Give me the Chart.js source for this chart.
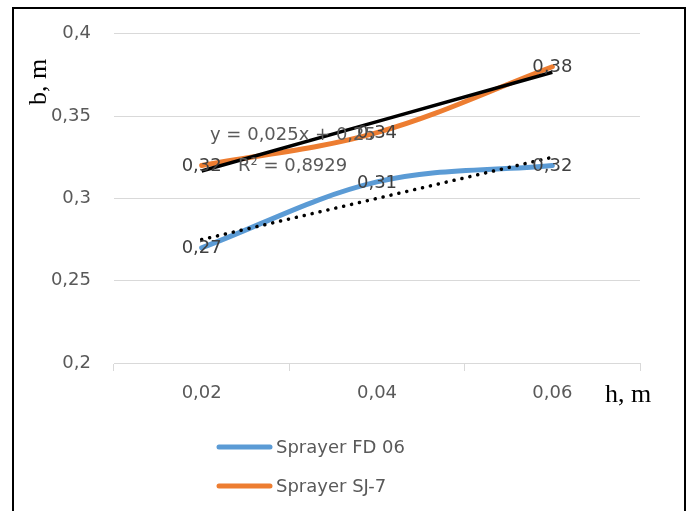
<!DOCTYPE html>
<html>
<head>
<meta charset="utf-8">
<script src="https://cdn.jsdelivr.net/npm/chart.js@4"></script>
<style>
  html, body { margin: 0; padding: 0; background: #fff; overflow: hidden; }
  #wrap { position: relative; width: 687px; height: 511px; }
  #frame { position: absolute; left: 12px; top: 7px; width: 670px; height: 600px; border: 2px solid #000; pointer-events: none; }
  canvas { position: absolute; left: 0; top: 0; }
</style>
</head>
<body>
<div id="wrap">
  <canvas id="chart" width="687" height="511"></canvas>
  <div id="frame"></div>
</div>
<script>
// values
const categories = ['0,02', '0,04', '0,06'];
const seriesNames = ['Sprayer FD 06', 'Sprayer SJ-7'];
const fd06Values = [0.27, 0.31, 0.32];
const sj7Values = [0.32, 0.34, 0.38];
const yMin = 0.2;
const yMax = 0.4;
const yStep = 0.05;
const trendText = ['y = 0,025x + 0,25', 'R\u00b2 = 0,8929'];

const FONT = '"DejaVu Sans", sans-serif';
const SERIF = '"Liberation Serif", "Times New Roman", serif';

function fmt(v) {
  return String(parseFloat(v.toFixed(3))).replace('.', ',');
}

// least squares line over x = 1..n, like the Excel trendline
function linearTrend(values) {
  const n = values.length;
  let sx = 0, sy = 0, sxy = 0, sxx = 0;
  values.forEach(function (v, i) {
    const x = i + 1;
    sx += x; sy += v; sxy += x * v; sxx += x * x;
  });
  const slope = (n * sxy - sx * sy) / (n * sxx - sx * sx);
  const icpt = (sy - slope * sx) / n;
  return values.map(function (_, i) { return icpt + slope * (i + 1); });
}

const overlay = {
  id: 'overlay',
  afterDatasetsDraw(chart) {
    const ctx = chart.ctx;
    const area = chart.chartArea;
    ctx.save();

    // data labels centred on points
    ctx.font = '18px ' + FONT;
    ctx.fillStyle = '#404040';
    ctx.textAlign = 'center';
    ctx.textBaseline = 'middle';
    chart.data.datasets.forEach(function (ds, i) {
      if (ds.isTrend) return;
      chart.getDatasetMeta(i).data.forEach(function (pt, j) {
        ctx.fillText(fmt(ds.data[j]), pt.x, pt.y + 1);
      });
    });

    // trendline equation
    ctx.textAlign = 'left';
    ctx.fillStyle = '#595959';
    ctx.fillText(trendText[0], area.left + 96, area.top + 102);
    ctx.fillText(trendText[1], area.left + 124, area.top + 133);

    // legend, stacked
    let ly = 447;
    chart.data.datasets.forEach(function (ds) {
      if (ds.isTrend) return;
      ctx.strokeStyle = ds.borderColor;
      ctx.lineWidth = 5;
      ctx.lineCap = 'round';
      ctx.beginPath();
      ctx.moveTo(219, ly);
      ctx.lineTo(270, ly);
      ctx.stroke();
      ctx.fillStyle = '#595959';
      ctx.fillText(ds.label, 276, ly + 1);
      ly += 39;
    });

    // axis titles
    ctx.fillStyle = '#000';
    ctx.font = '26px ' + SERIF;
    ctx.fillText('h, m', 605, 395);
    ctx.translate(39, 82);
    ctx.rotate(-Math.PI / 2);
    ctx.textAlign = 'center';
    ctx.fillText('b, m', 0, 0);
    ctx.restore();
  }
};

const chart = new Chart(document.getElementById('chart'), {
  type: 'line',
  data: {
    labels: categories,
    datasets: [
      {
        label: seriesNames[0],
        data: fd06Values,
        borderColor: '#5b9bd5',
        borderWidth: 5,
        tension: 0.35,
        pointRadius: 0,
        borderCapStyle: 'round',
        order: 2
      },
      {
        label: seriesNames[1],
        data: sj7Values,
        borderColor: '#ed7d31',
        borderWidth: 5,
        tension: 0.35,
        pointRadius: 0,
        borderCapStyle: 'round',
        order: 2
      },
      {
        label: 'trend FD 06',
        isTrend: true,
        data: linearTrend(fd06Values),
        borderColor: '#000',
        borderWidth: 3.5,
        borderDash: [0.1, 8],
        borderCapStyle: 'round',
        pointRadius: 0,
        tension: 0,
        order: 1
      },
      {
        label: 'trend SJ-7',
        isTrend: true,
        data: linearTrend(sj7Values),
        borderColor: '#000',
        borderWidth: 3.5,
        pointRadius: 0,
        tension: 0,
        order: 1
      }
    ]
  },
  options: {
    responsive: false,
    animation: false,
    layout: { padding: { left: 0, top: 31, right: 47, bottom: 108 } },
    plugins: {
      legend: { display: false },
      tooltip: { enabled: false }
    },
    scales: {
      x: {
        offset: true,
        grid: { offset: true, drawOnChartArea: false, drawTicks: true, tickLength: 8, color: '#d9d9d9' },
        border: { display: true, color: '#d9d9d9', width: 1 },
        ticks: { color: '#595959', font: { family: FONT, size: 18 }, padding: 12, maxRotation: 0 },
        afterFit: function (s) { s.height = 40; }
      },
      y: {
        min: yMin,
        max: yMax,
        grid: { color: '#d9d9d9', drawTicks: false },
        border: { display: false },
        ticks: {
          stepSize: yStep,
          padding: 23,
          color: '#595959',
          font: { family: FONT, size: 18 },
          callback: function (v) { return fmt(v); }
        },
        afterFit: function (s) { s.width = 114; }
      }
    }
  },
  plugins: [overlay]
});
</script>
</body>
</html>
